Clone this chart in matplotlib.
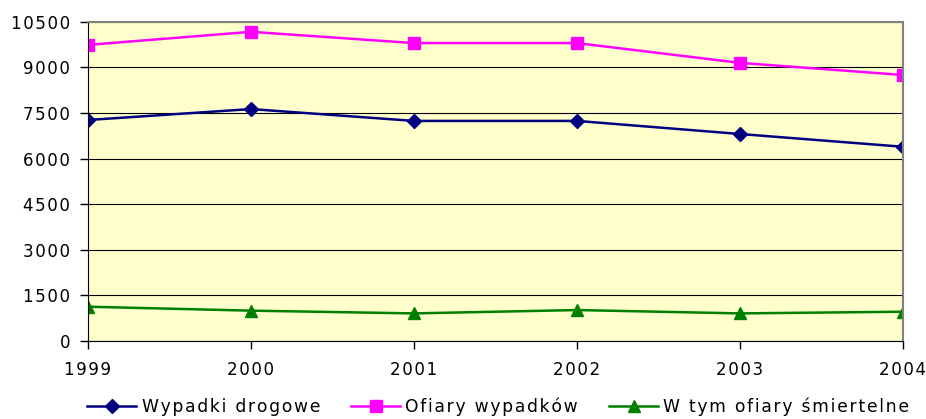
import numpy as np
import matplotlib.pyplot as plt

# lata i wartosci
lata = ['1999', '2000', '2001', '2002', '2003', '2004']
wypadki = [7270, 7630, 7240, 7240, 6810, 6390]
ofiary = [9740, 10170, 9800, 9800, 9150, 8750]
smiertelne = [1130, 1000, 910, 1020, 910, 965]
etykiety = ['Wypadki drogowe', 'Ofiary wypadków', 'W tym ofiary śmiertelne']

plt.rcParams['font.family'] = ['DejaVu Sans']

# szerszy odstep miedzy literami, jak w oryginale
def rozstaw(s):
    return '\u200a'.join(s)

fig = plt.figure(figsize=(9.26, 4.19), dpi=100)
ax = fig.add_axes([0.095, 0.186, 0.88, 0.762])
ax.set_facecolor('#FFFFCC')

x = np.arange(len(lata))
ax.plot(x, wypadki, color='#000080', marker='D', markersize=7, lw=1.8, label=rozstaw(etykiety[0]))
ax.plot(x, ofiary, color='#FF00FF', marker='s', markersize=8, lw=1.8, label=rozstaw(etykiety[1]))
ax.plot(x, smiertelne, color='#008000', marker='^', markersize=9, lw=1.8, label=rozstaw(etykiety[2]))

ax.set_xlim(0, len(lata) - 1)
ax.set_ylim(0, 10500)
yt = np.arange(0, 10501, 1500)
ax.set_yticks(yt)
ax.set_yticklabels([rozstaw(str(v)) for v in yt])
ax.set_xticks(x)
ax.set_xticklabels([rozstaw(r) for r in lata])
ax.yaxis.grid(True, color='black', lw=0.8)
ax.set_axisbelow(True)
ax.tick_params(labelsize=12, length=6, width=1, direction='out')
ax.tick_params(axis='x', pad=8)
ax.tick_params(axis='y', pad=7)

ax.spines['top'].set_color('#808080')
ax.spines['right'].set_color('#808080')
ax.spines['top'].set_linewidth(1.5)
ax.spines['right'].set_linewidth(1.5)

leg = fig.legend(loc='lower center', bbox_to_anchor=(0.538, -0.03), ncol=3, frameon=False,
                 fontsize=12.3, handlelength=2.9, columnspacing=1.8, handletextpad=0.3)

fig.savefig('out.png', dpi=100)
